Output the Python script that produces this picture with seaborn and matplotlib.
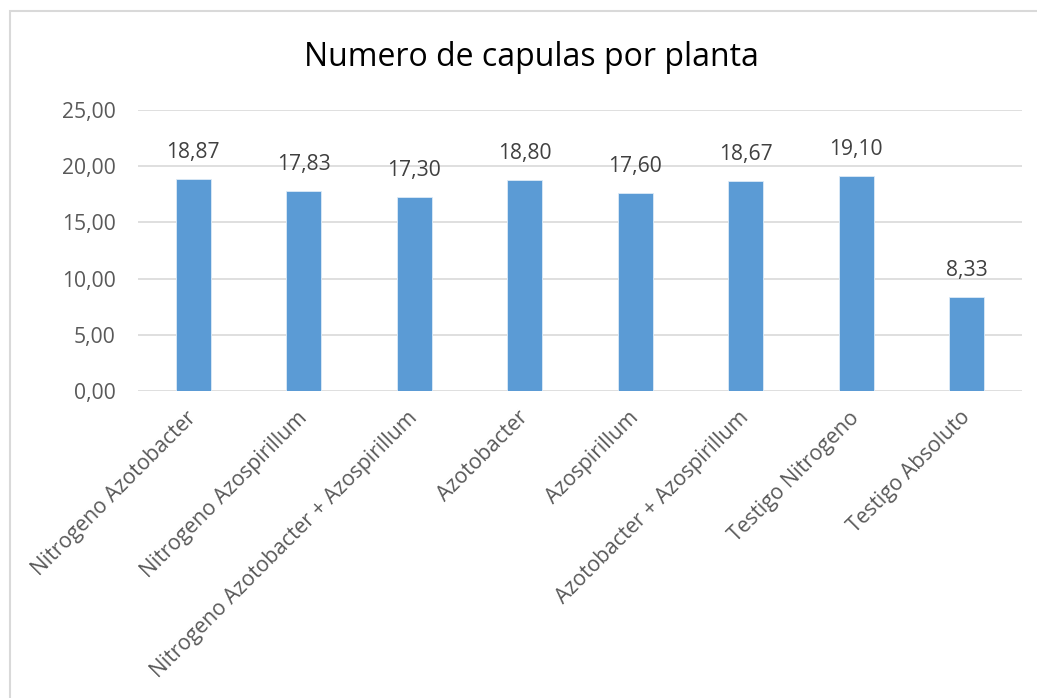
import matplotlib.pyplot as plt
import pandas as pd
import seaborn as sns
from matplotlib.patches import Rectangle

categories = [
    "Nitrogeno Azotobacter",
    "Nitrogeno Azospirillum",
    "Nitrogeno Azotobacter + Azospirillum",
    "Azotobacter",
    "Azospirillum",
    "Azotobacter + Azospirillum",
    "Testigo Nitrogeno",
    "Testigo Absoluto",
]
values = [18.87, 17.83, 17.30, 18.80, 17.60, 18.67, 19.10, 8.33]
yticks = [0, 5, 10, 15, 20, 25]

df = pd.DataFrame({"tratamiento": categories, "capulas": values})

sns.set_style("white")
plt.rcParams["font.family"] = ["Open Sans", "DejaVu Sans"]

W, H = 1037, 698
fig = plt.figure(figsize=(W / 100, H / 100), dpi=100)
# plot area in pixels: x 138..1022, y 110..391
ax = fig.add_axes([138 / W, 1 - 391 / H, (1022 - 138) / W, (391 - 110) / H])

sns.barplot(data=df, x="tratamiento", y="capulas", color="#5B9BD5",
            width=0.316, saturation=1, edgecolor="#DDEBF7", linewidth=0.6,
            ax=ax, zorder=3)

fs = 15.2
ax.set_ylim(0, 25)
ax.set_xlim(-0.5, len(categories) - 0.5)
ax.set_yticks(yticks)
ax.set_yticklabels([f"{v:.2f}".replace(".", ",") for v in yticks],
                   fontsize=fs, color="#595959")
ax.yaxis.grid(True, color="#D9D9D9", linewidth=1.2, zorder=0)
ax.set_axisbelow(True)
ax.tick_params(axis="y", length=0, pad=16)
ax.tick_params(axis="x", length=0, pad=17)
ax.set_xticks(range(len(categories)))
ax.set_xticklabels(categories, rotation=45, ha="right", va="center",
                   rotation_mode="anchor", fontsize=fs, color="#595959")
for s in ax.spines.values():
    s.set_visible(False)
ax.set_xlabel("")
ax.set_ylabel("")

for i, v in enumerate(values):
    ax.annotate(f"{v:.2f}".replace(".", ","), (i, v), xytext=(0, 19),
                textcoords="offset points", ha="center", va="center",
                fontsize=fs, color="#404040")

fig.text(531 / W, 1 - 57 / H, "Numero de capulas por planta", ha="center",
         va="center", fontsize=23, color="#000000")

fig.patches.append(Rectangle((10 / W, -0.1), 1.2, 1 - 11 / H + 0.1,
                             transform=fig.transFigure, fill=False,
                             edgecolor="#D9D9D9", linewidth=1.5))

fig.savefig("out.png", dpi=100)
